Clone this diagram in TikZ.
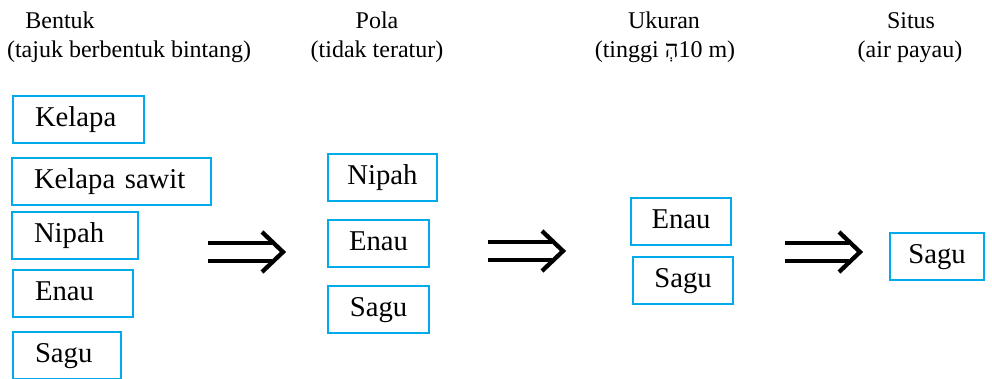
\documentclass[tikz,border=0pt]{standalone}
\usepackage{fontspec}
\setmainfont{Liberation Serif}
\newfontfamily\hebfont[Script=Hebrew]{Liberation Serif}
\TeXXeTstate=1
\usepackage{xcolor}
\usepackage{tikz}
\definecolor{boxcyan}{RGB}{0,170,235}
\tikzset{
  crit/.style={font=\fontsize{24}{28}\selectfont, anchor=base, inner sep=0pt},
  plant/.style={draw=boxcyan, line width=2pt, font=\fontsize{28.7}{34}\selectfont,
    minimum height=47pt, text height=20pt, text depth=6.5pt, anchor=north west},
  lplant/.style={plant, inner xsep=22pt, align=left},
  cplant/.style={plant, inner xsep=0pt},
  pics/implies/.style={code={
    \draw[line width=4.3pt] (0,-9) -- (64,-9) (0,9) -- (64,9);
    \draw[line width=4.3pt, line join=miter] (54,-20) -- (75,0) -- (54,20);
  }}
}

\begin{document}
\begin{tikzpicture}[x=1pt, y=-1pt]
    \path[use as bounding box] (0,0) rectangle (992,378);

    % criteria
    \node[crit] at (60,28)  (bentuk) {Bentuk};
    \node[crit] at (129,57) (bentukK) {(tajuk berbentuk bintang)};
    \node[crit] at (377,28) (pola) {Pola};
    \node[crit] at (377,57) (polaK) {(tidak teratur)};
    \node[crit] at (664,28) (ukuran) {Ukuran};
    \node[crit] at (665,57) (ukuranK) {(tinggi {\hebfont\beginR הְ\endR}10 m)};
    \node[crit] at (911,28) (situs) {Situs};
    \node[crit] at (910,57) (situsK) {(air payau)};

    % column 1
    \node[lplant, text width=87pt]  at (12,95)  (kelapaA) {Kelapa};
    \node[lplant, text width=155pt] at (11,157) (sawitA)  {Kelapa sawit};
    \node[lplant, text width=82pt]  at (11,211) (nipahA)  {Nipah};
    \node[lplant, text width=76pt]  at (12,269) (enauA)   {Enau};
    \node[lplant, text width=64pt]  at (12,331) (saguA)   {Sagu};

    % column 2
    \node[cplant, minimum width=109pt] at (327,153) (nipahB) {Nipah};
    \node[cplant, minimum width=101pt] at (327,219) (enauB)  {Enau};
    \node[cplant, minimum width=101pt] at (327,285) (saguB)  {Sagu};

    % column 3
    \node[cplant, minimum width=100pt] at (630,197) (enauC) {Enau};
    \node[cplant, minimum width=100pt] at (632,256) (saguC) {Sagu};

    % column 4
    \node[cplant, minimum width=94pt] at (889,232) (saguD) {Sagu};

    % arrows
    \coordinate (arrA) at (208,252);
    \coordinate (arrB) at (488,251);
    \coordinate (arrC) at (785,252);
    \pic at (arrA) {implies};
    \pic at (arrB) {implies};
    \pic at (arrC) {implies};
\end{tikzpicture}
\end{document}
